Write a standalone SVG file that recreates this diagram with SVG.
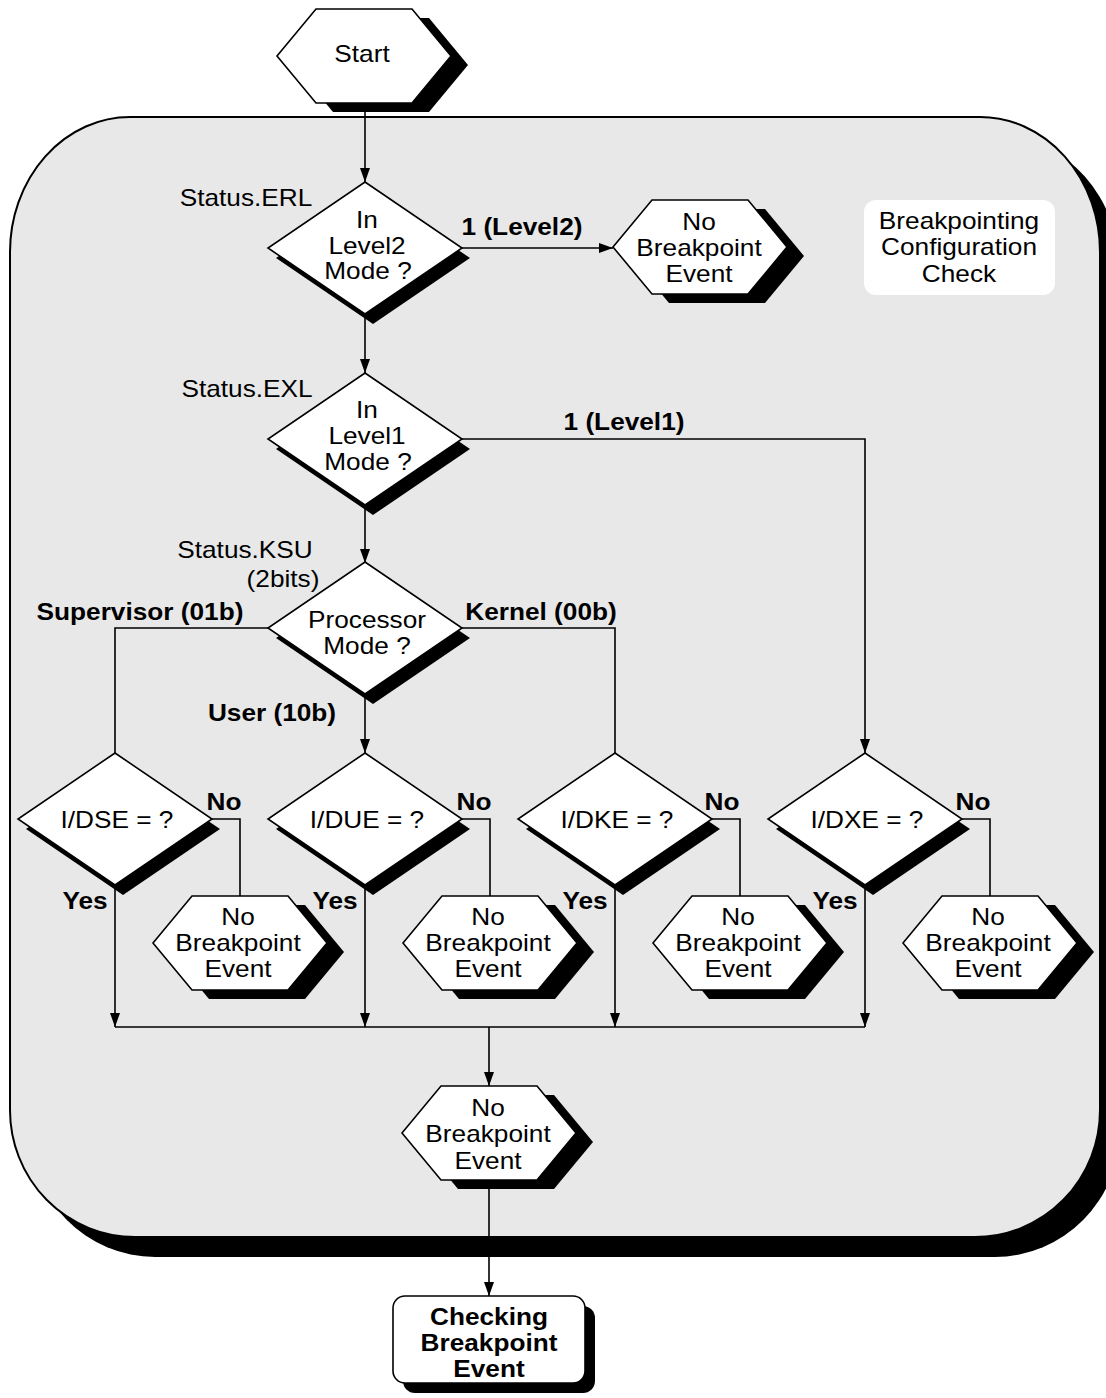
<svg xmlns="http://www.w3.org/2000/svg" xmlns:xlink="http://www.w3.org/1999/xlink" width="1106" height="1398" viewBox="0 0 1106 1398">
  <style>
    text { font-family: "Liberation Sans", Arial, sans-serif; font-size: 23px; fill: #000; text-anchor: middle; }
    .b { font-weight: bold; }
    .shape { fill: #fff; stroke: #000; stroke-width: 1.6; }
    .shadow { fill: #000; stroke: none; }
    .wire { fill: none; stroke: #000; stroke-width: 1.6; }
    .arrow { marker-end: url(#head); }
  </style>
  <defs>
    <marker id="head" markerUnits="userSpaceOnUse" markerWidth="14" markerHeight="10" refX="14" refY="5" orient="auto">
      <path d="M0,0 L14,5 L0,10 z" fill="#000"/>
    </marker>
    <polygon id="hex" points="-87,0 -48,-47 48,-47 87,0 48,47 -48,47"/>
    <polygon id="dia" points="0,-66 97,0 0,66 -97,0"/>
    <path id="frame" d="M130,117 H980 A120,135 0 0 1 1100,252 V1110 A125,127 0 0 1 975,1237 H135 A125,127 0 0 1 10,1110 V252 A120,135 0 0 1 130,117 Z"/>
  </defs>

  <!-- enclosing region -->
  <g id="region">
    <use xlink:href="#frame" href="#frame" x="20" y="20" class="shadow"/>
    <use xlink:href="#frame" href="#frame" fill="#e8e8e8" stroke="#000" stroke-width="2"/>
    <rect x="864" y="200" width="191" height="95" rx="12" fill="#fff"/>
    <text transform="translate(959,229) scale(1.14,1)">Breakpointing</text>
    <text transform="translate(959,255) scale(1.14,1)">Configuration</text>
    <text transform="translate(959,282) scale(1.14,1)">Check</text>
  </g>

  <!-- connectors -->
  <g id="connectors">
    <path class="wire arrow" d="M365,103 V182"/>
    <path class="wire arrow" d="M460,248 H613"/>
    <path class="wire arrow" d="M365,314 V373"/>
    <path class="wire arrow" d="M460,439 H865 V753"/>
    <path class="wire arrow" d="M365,505 V563"/>
    <path class="wire" d="M269,628 H115 V753"/>
    <path class="wire" d="M460,628 H615 V753"/>
    <path class="wire arrow" d="M365,694 V753"/>
    <path class="wire" d="M212,819 H240 V896"/>
    <path class="wire" d="M462,819 H490 V896"/>
    <path class="wire" d="M712,819 H740 V896"/>
    <path class="wire" d="M962,819 H990 V896"/>
    <path class="wire arrow" d="M115,885 V1027"/>
    <path class="wire arrow" d="M365,885 V1027"/>
    <path class="wire arrow" d="M615,885 V1027"/>
    <path class="wire arrow" d="M865,885 V1027"/>
    <path class="wire" d="M115,1027 H865"/>
    <path class="wire arrow" d="M489,1027 V1086"/>
    <path class="wire arrow" d="M489,1180 V1296"/>
    <text class="b" transform="translate(522,235) scale(1.14,1)">1 (Level2)</text>
    <text class="b" transform="translate(624,430) scale(1.14,1)">1 (Level1)</text>
    <text class="b" transform="translate(140,620) scale(1.14,1)">Supervisor (01b)</text>
    <text class="b" transform="translate(541,620) scale(1.14,1)">Kernel (00b)</text>
    <text class="b" transform="translate(272,721) scale(1.14,1)">User (10b)</text>
    <text class="b" transform="translate(224,810) scale(1.14,1)">No</text>
    <text class="b" transform="translate(474,810) scale(1.14,1)">No</text>
    <text class="b" transform="translate(722,810) scale(1.14,1)">No</text>
    <text class="b" transform="translate(973,810) scale(1.14,1)">No</text>
    <text class="b" transform="translate(85,909) scale(1.14,1)">Yes</text>
    <text class="b" transform="translate(335,909) scale(1.14,1)">Yes</text>
    <text class="b" transform="translate(585,909) scale(1.14,1)">Yes</text>
    <text class="b" transform="translate(835,909) scale(1.14,1)">Yes</text>
  </g>

  <!-- start -->
  <g id="start" transform="translate(364,56)">
    <use xlink:href="#hex" href="#hex" x="17" y="9" class="shadow"/>
    <use xlink:href="#hex" href="#hex" class="shape"/>
    <text transform="translate(-2,6) scale(1.14,1)">Start</text>
  </g>

  <!-- decision: level 2 -->
  <g id="level2" transform="translate(365,248)">
    <use xlink:href="#dia" href="#dia" x="8" y="10" class="shadow"/>
    <use xlink:href="#dia" href="#dia" class="shape"/>
    <text transform="translate(2,-20) scale(1.14,1)">In</text>
    <text transform="translate(2,6) scale(1.14,1)">Level2</text>
    <text transform="translate(3,31) scale(1.14,1)">Mode ?</text>
    <text transform="translate(-119,-42) scale(1.14,1)">Status.ERL</text>
  </g>

  <g id="nobp-level2" transform="translate(700,247)">
    <use xlink:href="#hex" href="#hex" x="17" y="9" class="shadow"/>
    <use xlink:href="#hex" href="#hex" class="shape"/>
    <text transform="translate(-1,-17) scale(1.14,1)">No</text>
    <text transform="translate(-1,9) scale(1.14,1)">Breakpoint</text>
    <text transform="translate(-1,35) scale(1.14,1)">Event</text>
  </g>

  <!-- decision: level 1 -->
  <g id="level1" transform="translate(365,439)">
    <use xlink:href="#dia" href="#dia" x="8" y="10" class="shadow"/>
    <use xlink:href="#dia" href="#dia" class="shape"/>
    <text transform="translate(2,-21) scale(1.14,1)">In</text>
    <text transform="translate(2,5) scale(1.14,1)">Level1</text>
    <text transform="translate(3,31) scale(1.14,1)">Mode ?</text>
    <text transform="translate(-118,-42) scale(1.14,1)">Status.EXL</text>
  </g>

  <!-- decision: processor mode -->
  <g id="mode" transform="translate(365,628)">
    <use xlink:href="#dia" href="#dia" x="8" y="10" class="shadow"/>
    <use xlink:href="#dia" href="#dia" class="shape"/>
    <text transform="translate(2,0) scale(1.14,1)">Processor</text>
    <text transform="translate(2,26) scale(1.14,1)">Mode ?</text>
    <text transform="translate(-120,-70) scale(1.14,1)">Status.KSU</text>
    <text transform="translate(-82,-41) scale(1.14,1)">(2bits)</text>
  </g>

  <!-- enable checks -->
  <g id="dse" transform="translate(115,819)">
    <use xlink:href="#dia" href="#dia" x="8" y="10" class="shadow"/>
    <use xlink:href="#dia" href="#dia" class="shape"/>
    <text transform="translate(2,9) scale(1.14,1)">I/DSE = ?</text>
  </g>
  <g id="due" transform="translate(365,819)">
    <use xlink:href="#dia" href="#dia" x="8" y="10" class="shadow"/>
    <use xlink:href="#dia" href="#dia" class="shape"/>
    <text transform="translate(2,9) scale(1.14,1)">I/DUE = ?</text>
  </g>
  <g id="dke" transform="translate(615,819)">
    <use xlink:href="#dia" href="#dia" x="8" y="10" class="shadow"/>
    <use xlink:href="#dia" href="#dia" class="shape"/>
    <text transform="translate(2,9) scale(1.14,1)">I/DKE = ?</text>
  </g>
  <g id="dxe" transform="translate(865,819)">
    <use xlink:href="#dia" href="#dia" x="8" y="10" class="shadow"/>
    <use xlink:href="#dia" href="#dia" class="shape"/>
    <text transform="translate(2,9) scale(1.14,1)">I/DXE = ?</text>
  </g>

  <g id="nobp-s" transform="translate(240,943)">
    <use xlink:href="#hex" href="#hex" x="17" y="9" class="shadow"/>
    <use xlink:href="#hex" href="#hex" class="shape"/>
    <text transform="translate(-2,-18) scale(1.14,1)">No</text>
    <text transform="translate(-2,8) scale(1.14,1)">Breakpoint</text>
    <text transform="translate(-2,34) scale(1.14,1)">Event</text>
  </g>
  <g id="nobp-u" transform="translate(490,943)">
    <use xlink:href="#hex" href="#hex" x="17" y="9" class="shadow"/>
    <use xlink:href="#hex" href="#hex" class="shape"/>
    <text transform="translate(-2,-18) scale(1.14,1)">No</text>
    <text transform="translate(-2,8) scale(1.14,1)">Breakpoint</text>
    <text transform="translate(-2,34) scale(1.14,1)">Event</text>
  </g>
  <g id="nobp-k" transform="translate(740,943)">
    <use xlink:href="#hex" href="#hex" x="17" y="9" class="shadow"/>
    <use xlink:href="#hex" href="#hex" class="shape"/>
    <text transform="translate(-2,-18) scale(1.14,1)">No</text>
    <text transform="translate(-2,8) scale(1.14,1)">Breakpoint</text>
    <text transform="translate(-2,34) scale(1.14,1)">Event</text>
  </g>
  <g id="nobp-x" transform="translate(990,943)">
    <use xlink:href="#hex" href="#hex" x="17" y="9" class="shadow"/>
    <use xlink:href="#hex" href="#hex" class="shape"/>
    <text transform="translate(-2,-18) scale(1.14,1)">No</text>
    <text transform="translate(-2,8) scale(1.14,1)">Breakpoint</text>
    <text transform="translate(-2,34) scale(1.14,1)">Event</text>
  </g>

  <g id="nobp-final" transform="translate(489,1133)">
    <use xlink:href="#hex" href="#hex" x="17" y="9" class="shadow"/>
    <use xlink:href="#hex" href="#hex" class="shape"/>
    <text transform="translate(-1,-17) scale(1.14,1)">No</text>
    <text transform="translate(-1,9) scale(1.14,1)">Breakpoint</text>
    <text transform="translate(-1,36) scale(1.14,1)">Event</text>
  </g>

  <!-- terminal -->
  <g id="checking">
    <rect x="403" y="1306" width="192" height="87" rx="12" class="shadow"/>
    <rect x="393" y="1296" width="192" height="87" rx="12" class="shape" stroke-width="2"/>
    <text class="b" transform="translate(489,1325) scale(1.14,1)">Checking</text>
    <text class="b" transform="translate(489,1351) scale(1.14,1)">Breakpoint</text>
    <text class="b" transform="translate(489,1377) scale(1.14,1)">Event</text>
  </g>
</svg>
